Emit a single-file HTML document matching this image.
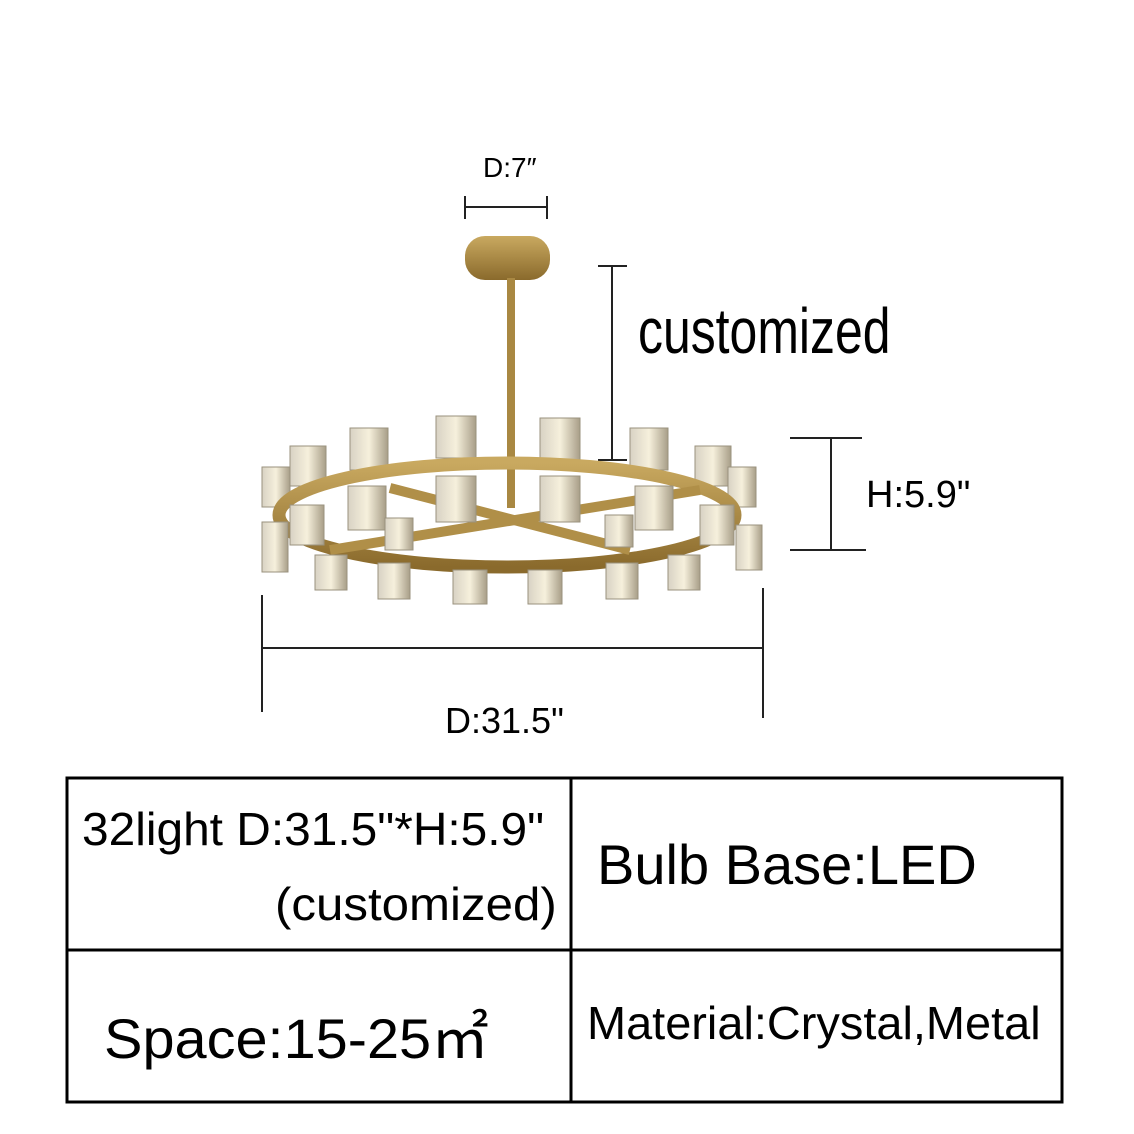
<!DOCTYPE html>
<html><head><style>
body{margin:0;width:1134px;height:1134px;background:#fff;position:relative;overflow:hidden;font-family:"Liberation Sans",sans-serif;color:#000}
.t{position:absolute;white-space:nowrap}
</style></head><body>
<svg width="1134" height="1134" style="position:absolute;left:0;top:0">
<defs>
<linearGradient id="g" x1="0" y1="0" x2="0" y2="1"><stop offset="0" stop-color="#c9a960"/><stop offset="1" stop-color="#8a6a2c"/></linearGradient>
<linearGradient id="c" x1="0" y1="0" x2="1" y2="0"><stop offset="0" stop-color="#d8d2c4"/><stop offset=".5" stop-color="#f6f0dc"/><stop offset="1" stop-color="#a89e88"/></linearGradient>
</defs>
<g stroke="#222" stroke-width="2" fill="none">
<line x1="465" y1="207" x2="547" y2="207"/><line x1="465" y1="196" x2="465" y2="219"/><line x1="547" y1="196" x2="547" y2="219"/>
<line x1="612" y1="266" x2="612" y2="460"/><line x1="598" y1="266" x2="627" y2="266"/><line x1="598" y1="460" x2="627" y2="460"/>
<line x1="831" y1="438" x2="831" y2="550"/><line x1="790" y1="438" x2="862" y2="438"/><line x1="790" y1="550" x2="866" y2="550"/>
<line x1="262" y1="648" x2="763" y2="648"/><line x1="262" y1="595" x2="262" y2="712"/><line x1="763" y1="588" x2="763" y2="718"/>
</g>
<rect x="465" y="236" width="85" height="44" rx="20" fill="url(#g)"/>
<rect x="507" y="278" width="8" height="230" fill="#a98842"/>
<g fill="url(#c)" stroke="#9a927e" stroke-width="1">
<rect x="262" y="467" width="28" height="40"/><rect x="290" y="446" width="36" height="40"/><rect x="350" y="428" width="38" height="42"/><rect x="436" y="416" width="40" height="42"/><rect x="540" y="418" width="40" height="42"/><rect x="630" y="428" width="38" height="42"/><rect x="695" y="446" width="36" height="40"/><rect x="728" y="467" width="28" height="40"/>
</g>
<ellipse cx="507" cy="515" rx="228" ry="52" fill="none" stroke="url(#g)" stroke-width="13"/>
<g stroke="#b08f48" stroke-width="10">
<line x1="390" y1="488" x2="630" y2="550"/><line x1="330" y1="550" x2="700" y2="490"/>
</g>
<g fill="url(#c)" stroke="#9a927e" stroke-width="1">
<rect x="290" y="505" width="34" height="40"/><rect x="348" y="486" width="38" height="44"/><rect x="436" y="476" width="40" height="46"/><rect x="540" y="476" width="40" height="46"/><rect x="635" y="486" width="38" height="44"/><rect x="700" y="505" width="34" height="40"/>
<rect x="262" y="522" width="26" height="50"/><rect x="736" y="525" width="26" height="45"/>
<rect x="315" y="555" width="32" height="35"/><rect x="378" y="563" width="32" height="36"/><rect x="453" y="570" width="34" height="34"/><rect x="528" y="570" width="34" height="34"/><rect x="606" y="563" width="32" height="36"/><rect x="668" y="555" width="32" height="35"/><rect x="605" y="515" width="28" height="32"/><rect x="385" y="518" width="28" height="32"/>
</g>
<g fill="none" stroke="#000" stroke-width="3">
<rect x="67" y="778" width="995" height="324"/>
<line x1="571" y1="778" x2="571" y2="1102"/><line x1="67" y1="950" x2="1062" y2="950"/>
</g>
</svg>
<div class="t" style="left:483px;top:152px;font-size:28px">D:7″</div>
<div class="t" style="left:638px;top:294px;font-size:64px;transform:scaleX(.78);transform-origin:left">customized</div>
<div class="t" style="left:866px;top:474px;font-size:38px">H:5.9"</div>
<div class="t" style="left:445px;top:700px;font-size:36px">D:31.5"</div>
<div class="t" style="left:82px;top:802px;font-size:46px;transform:scaleX(1.04);transform-origin:left">32light D:31.5"*H:5.9"</div>
<div class="t" style="left:275px;top:877px;font-size:46px;transform:scaleX(1.07);transform-origin:left">(customized)</div>
<div class="t" style="left:597px;top:832px;font-size:56px">Bulb Base:LED</div>
<div class="t" style="left:104px;top:994px;font-size:56px;transform:scaleX(1.03);transform-origin:left">Space:15-25㎡</div>
<div class="t" style="left:587px;top:996px;font-size:46px;transform:scaleX(1.02);transform-origin:left">Material:Crystal,Metal</div>
</body></html>
